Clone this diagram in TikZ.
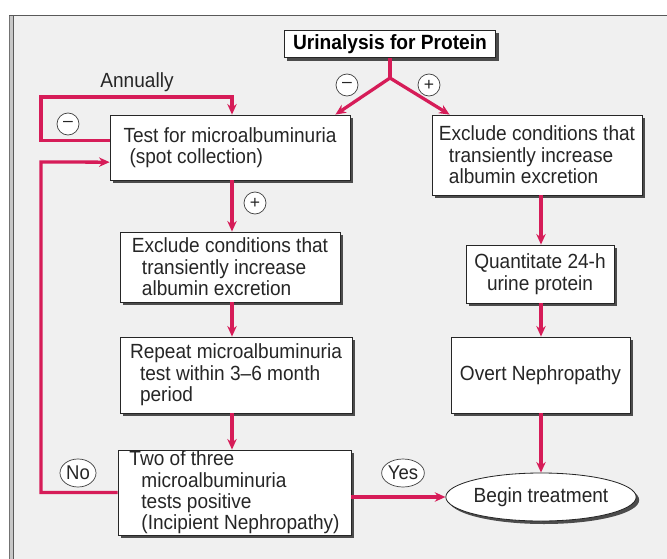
\documentclass[tikz,border=0pt]{standalone}
\usepackage{fontspec}
\setmainfont{Liberation Sans}
\usetikzlibrary{arrows, arrows.meta, shadows, positioning, shapes.geometric}
\definecolor{rouge}{RGB}{214,28,88}
\newfontfamily\etroite[FakeStretch=0.93]{Liberation Sans}
\tikzstyle{fleche} = [->,>={Stealth[length=9pt,width=8pt]},draw=rouge,line width=2.8pt]
\tikzstyle{trait} = [-,draw=rouge,line width=2.8pt]
\tikzstyle{boite} = [draw=black!85, fill=white, line width=0.7pt, inner sep=0pt, text=black!85,
  drop shadow={shadow xshift=0.09cm, shadow yshift=-0.09cm, fill=black!70, opacity=1},
  font=\etroite\fontsize{17.5}{18.3}\selectfont]
\tikzstyle{rond} = [circle, draw=black!75, fill=white, line width=0.6pt, inner sep=0pt,
  minimum size=0.66cm, text=black!85, font=\fontsize{15}{15}\selectfont]
\tikzstyle{ovale} = [ellipse, draw=black!75, fill=white, line width=0.6pt, inner sep=0pt,
  minimum height=0.84cm, text=black!85, font=\etroite\fontsize{17}{17}\selectfont]

\begin{document}
\begin{tikzpicture}[x=0.03cm, y=-0.03cm]

	\useasboundingbox (0,0) rectangle (667,559);

	%% Cadre
	\fill[black!6] (12,15) rectangle (667,559);
	\fill[black!22] (9,15) rectangle (13,559);
	\draw[black!55, line width=0.5pt] (9,15) -- (9,559);
	\draw[black!65, line width=0.6pt] (13,15) -- (13,559);
	\draw[black!65, line width=0.6pt] (9,15) -- (667,15);

	%% Boites
	\node[boite, minimum width=6.33cm, minimum height=0.81cm, text=black, font=\etroite\bfseries\fontsize{17.6}{18}\selectfont] (urine) at (390,44) {Urinalysis for Protein};

	\node[boite, align=left, minimum width=7.2cm, minimum height=1.95cm] (test) at (230,147.5) {Test for microalbuminuria\\\hspace{0.18cm}(spot collection)};

	\node[boite, align=left, minimum width=6.3cm, minimum height=2.4cm] (exclD) at (537,155) {Exclude conditions that\\\hspace{0.3cm}transiently increase\\\hspace{0.3cm}albumin excretion};

	\node[boite, align=left, minimum width=6.6cm, minimum height=2.1cm] (exclG) at (230,267) {Exclude conditions that\\\hspace{0.3cm}transiently increase\\\hspace{0.3cm}albumin excretion};

	\node[boite, align=left, minimum width=6.96cm, minimum height=2.28cm] (repet) at (236,375) {Repeat microalbuminuria\\\hspace{0.3cm}test within 3–6 month\\\hspace{0.3cm}period};

	\node[boite, align=left, minimum width=6.99cm, minimum height=2.55cm] (deux) at (234.5,492.5) {Two of three\\\hspace{0.36cm}microalbuminuria\\\hspace{0.36cm}tests positive\\\hspace{0.36cm}(Incipient Nephropathy)};

	\node[boite, align=center, minimum width=4.44cm, minimum height=1.74cm] (quant) at (540,274) {Quantitate 24-h\\urine protein};

	\node[boite, minimum width=5.37cm, minimum height=2.28cm] (overt) at (540.5,375) {Overt Nephropathy};

	\node[boite, ellipse, minimum width=4.62cm, minimum height=1.44cm] (traite) at (541,497) {Begin treatment};

	%% Fleches
	\coordinate (fourche) at (390,78);
	\draw[trait] (urine.south) -- (fourche);
	\draw[fleche] (fourche) -- ([xshift=-0.45cm]test.north east);
	\draw[fleche] (fourche) -- ([xshift=0.54cm]exclD.north west);

	\draw[fleche] ([yshift=0.22cm]test.west) -| (41,97) -| ([xshift=0.06cm]test.north);
	\draw[fleche] (deux.west) -| (41,162) -- ([yshift=-0.44cm]test.west);

	\draw[fleche] ([xshift=0.06cm]test.south) -- ([xshift=0.06cm]exclG.north);
	\draw[fleche] ([xshift=0.06cm]exclG.south) -- ([xshift=0.06cm]exclG.south |- repet.north);
	\draw[fleche] ([xshift=0.06cm]exclG.south |- repet.south) -- ([xshift=0.06cm]exclG.south |- deux.north);

	\draw[fleche] ([xshift=0.12cm]exclD.south) -- ([xshift=0.12cm]exclD.south |- quant.north);
	\draw[fleche] ([xshift=0.12cm]exclD.south |- quant.south) -- ([xshift=0.12cm]exclD.south |- overt.north);
	\draw[fleche] ([xshift=0.12cm]exclD.south |- overt.south) -- ([xshift=0.12cm]exclD.south |- traite.north);

	\draw[fleche] (deux.east |- traite.west) -- (traite.west);

	%% Etiquettes
	\node[text=black!85, font=\etroite\fontsize{17.5}{16}\selectfont] (annuel) at (137,82) {Annually};
	\node[rond] (moinsA) at (68,124) {–};
	\node[rond] (moins) at (347,85) {–};
	\node[rond] (plus) at (429,85) {+};
	\node[rond] (plusT) at (255,203) {+};
	\node[ovale, minimum width=1.08cm] (non) at (78,473) {No};
	\node[ovale, minimum width=1.2cm] (oui) at (403,473) {Yes};

\end{tikzpicture}
\end{document}
